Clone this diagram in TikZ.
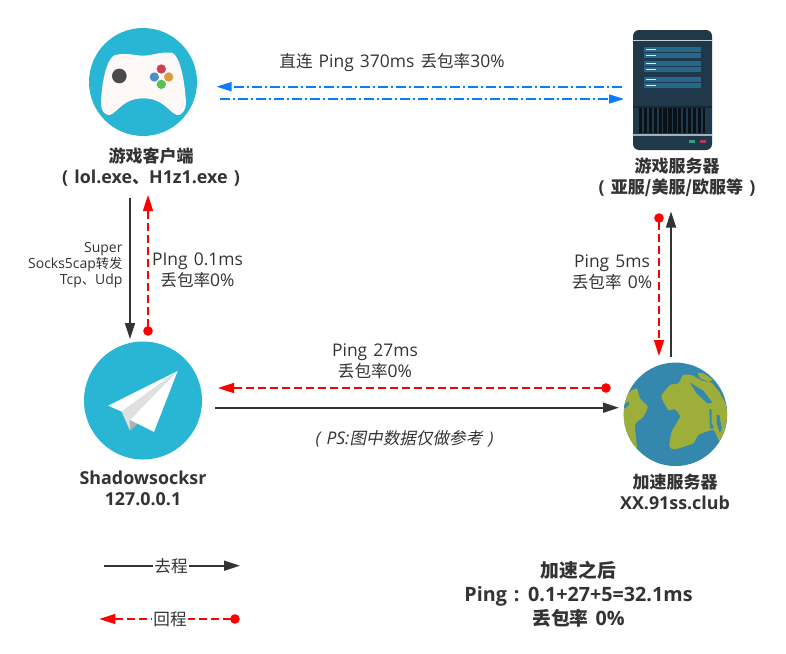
\documentclass[tikz,border=0pt]{standalone}
\usepackage{fontspec}
\usepackage{tikz}
\usetikzlibrary{arrows.meta}
\setmainfont[Scale=1.05,WordSpace=1.35]{Open Sans}
\newfontfamily\cjk[AutoFakeSlant=0.2]{Noto Sans CJK SC}
\newcommand{\zh}[1]{{\cjk #1}}
\definecolor{inkgrey}{HTML}{333333}
\definecolor{tealblue}{HTML}{29B6D5}
\definecolor{linkblue}{HTML}{0A7CFF}
\definecolor{rackdark}{HTML}{20394A}
\definecolor{rackrow}{HTML}{27678C}
\definecolor{seablue}{HTML}{3488AD}
\definecolor{landgreen}{HTML}{9DAE3A}
\definecolor{padbody}{HTML}{FFF8F8}
\definecolor{padstick}{HTML}{4A4A4A}
\definecolor{padred}{HTML}{C8434F}
\definecolor{padblue}{HTML}{4A90C8}
\definecolor{padorange}{HTML}{E0993A}
\definecolor{padgreen}{HTML}{55C455}
\definecolor{ledgreen}{HTML}{3A9D7F}
\definecolor{ledred}{HTML}{B03A5B}
\tikzset{
  goline/.style={draw=inkgrey,line width=1.7pt,-{Triangle[length=16pt,width=10pt]}},
  backline/.style={draw=red,line width=1.6pt,dash pattern=on 8pt off 4pt,
    {Circle[length=9.5pt]}-{Triangle[length=16pt,width=10pt]}},
  directline/.style={draw=linkblue,line width=1.6pt,dash pattern=on 10pt off 3pt on 2pt off 3pt,
    -{Triangle[length=15pt,width=9pt]}},
  note/.style={text=inkgrey,align=center,inner sep=0pt,font=\fontsize{16.6}{21}\selectfont},
  title/.style={text=inkgrey,align=center,inner sep=0pt,font=\bfseries\fontsize{17}{21}\selectfont},
  small/.style={text=inkgrey,align=right,inner sep=0pt,font=\fontsize{13.3}{16.3}\selectfont},
  badge/.style={circle,fill=tealblue,inner sep=0pt,minimum size=#1}
}
\begin{document}
\begin{tikzpicture}[x=1pt,y=-1pt]
\useasboundingbox (0,0) rectangle (786,653);
%Game client
  \node[badge=108pt] (game) at (143,82) {};
  \begin{scope}[shift={(60,10)},x=.3333pt,y=-.3333pt]
    \fill[padbody] (165,135) .. controls (200,127) and (225,137) .. (250,137) .. controls (275,137) and (300,125) .. (335,128)
      .. controls (360,135) and (375,215) .. (378,280) .. controls (378,300) and (365,318) .. (350,315)
      .. controls (325,305) and (310,265) .. (250,265) .. controls (190,265) and (175,305) .. (150,315)
      .. controls (135,318) and (122,300) .. (123,280) .. controls (125,215) and (140,145) .. (165,135) -- cycle;
    \fill[padstick] (178,198) circle (22);
    \fill[padred] (304,177) circle (14);
    \fill[padblue] (283,201) circle (14);
    \fill[padorange] (326,201) circle (14);
    \fill[padgreen] (304,223) circle (14);
  \end{scope}
  \node[title] (gameText) at (151,167.5) {\zh{游戏客户端}\\( lol.exe\zh{、}H1z1.exe )};
%Game server
  \node[rounded corners=6pt,fill=rackdark,inner sep=0pt,minimum width=79pt,minimum height=120pt] (server) at (672.5,90) {};
  \fill[white!75!rackdark] (633,39.5) rectangle (712,41);
  \foreach \ytop in {47.3,53.3,61,67,77,83}{
    \fill[rackrow] (644.3,\ytop) rectangle (701,\ytop+4.7);
    \fill[white!85!rackrow] (646,\ytop+1.6) rectangle (656,\ytop+3);
  }
  \fill[rackdark!70!black] (633,106) rectangle (712,107.5);
  \fill[black!70!rackdark] (638.7,108.3) rectangle (705.3,132.7);
  \foreach \xvent in {643,647.9,652.8,657.7,662.6,667.5,672.4,677.3,682.2,687.1,692,696.9,701.8}
    \fill[rackdark] (\xvent-.8,108.3) rectangle (\xvent+.8,132.7);
  \fill[white!60!rackdark] (633,134) rectangle (712,136);
  \fill[ledgreen] (689,140) rectangle (694.5,143);
  \fill[ledred] (700,140) rectangle (705.5,143);
  \node[title] (serverText) at (677,177.5) {\zh{游戏服务器}\\( \zh{亚服/美服/欧服等} )};
%Shadowsocksr
  \node[badge=118pt] (proxy) at (143,400.5) {};
  \begin{scope}[shift={(20,190)},x=.3333pt,y=-.3333pt]
    \fill[white] (473,543) -- (265,647) -- (305,665) -- cycle;
    \fill[black!12] (473,543) -- (305,665) -- (330,722) -- (330,690) -- cycle;
    \fill[black!30] (330,690) -- (330,722) -- (352,702) -- cycle;
    \fill[white] (473,543) -- (330,690) -- (402,726) -- cycle;
  \end{scope}
  \node[title] (proxyText) at (143,488.5) {Shadowsocksr\\127.0.0.1};
%Speedup server
  \node[circle,fill=seablue,inner sep=0pt,minimum size=103.5pt] (globe) at (675.5,414.3) {};
  \begin{scope}[shift={(620,360)},x=.3333pt,y=-.3333pt]
    \clip (166,163) circle (155);
    \fill[landgreen] plot[smooth cycle,tension=.35] coordinates {(5,150) (25,100) (50,85) (60,115) (83,140) (70,170)
      (45,195) (50,268) (5,190)};
    \fill[landgreen] plot[smooth cycle,tension=.3] coordinates {(125,105) (150,75) (175,70) (190,45) (215,45) (245,62) (275,68)
      (300,100) (330,160) (320,200) (302,250) (280,210) (235,225) (220,250) (165,268) (148,260) (155,215) (180,170)
      (165,148) (145,150) (125,115)};
    \fill[landgreen] (232,38) -- (250,40) -- (280,60) -- (265,65) -- (240,55) -- cycle;
    \fill[seablue] (210,68) -- (250,92) -- (277,128) -- (262,130) -- (230,100) -- cycle;
    \fill[seablue] (268,148) -- (275,148) -- (275,190) -- (282,205) -- (270,205) -- cycle;
    \fill[seablue] (290,165) -- (298,165) -- (305,205) -- (300,220) -- (290,190) -- cycle;
    \fill[seablue] (12,132) -- (28,125) -- (25,138) -- (12,146) -- cycle;
  \end{scope}
  \node[title] (globeText) at (675,492) {\zh{加速服务器}\\XX.91ss.club};
% anchors of the links
  \coordinate (directFrom) at (622,86.7);
  \coordinate (directTo) at (216.5,86.7);
  \coordinate (directBackFrom) at (220,99);
  \coordinate (directBackTo) at (624,99);
  \coordinate (gameOut) at (130,198);
  \coordinate (proxyIn) at (130,339);
  \coordinate (proxyBack) at (148,335.7);
  \coordinate (gameBack) at (148,195);
  \coordinate (proxyOut) at (215,407.7);
  \coordinate (globeIn) at (619,407.7);
  \coordinate (globeBack) at (610.7,388);
  \coordinate (proxyBackIn) at (218,388);
  \coordinate (serverBack) at (659,213.3);
  \coordinate (globeBackIn) at (659,356);
  \coordinate (globeOut) at (671,356.7);
  \coordinate (serverIn) at (671,211.5);
% links
  \draw[directline] (directFrom) -- (directTo);
  \draw[directline] (directBackFrom) -- (directBackTo);
  \draw[goline] (gameOut) -- (proxyIn);
  \draw[backline] (proxyBack) -- (gameBack);
  \draw[goline] (proxyOut) -- (globeIn);
  \draw[backline] (globeBack) -- (proxyBackIn);
  \draw[backline] (serverBack) -- (globeBackIn);
  \draw[goline] (globeOut) -- (serverIn);
% labels
  \node[note] (directText) at (392,62.5) {\zh{直连} Ping 370ms \zh{丢包率}30\%};
  \node[small,anchor=east] (socksText) at (122.7,265) {Super\\Socks5cap\zh{转发}\\Tcp\zh{、}Udp};
  \node[note] (pingLocal) at (197.5,270) {PIng 0.1ms\\\zh{丢包率}0\%};
  \node[note] (pingRelay) at (375,361) {Ping 27ms\\\zh{丢包率}0\%};
  \node[note] (pingServer) at (612,272) {Ping 5ms\\\zh{丢包率} 0\%};
  \node[note,font=\itshape\fontsize{16.6}{21}\selectfont] (psText) at (404.5,438.5) {( PS:\zh{图中数据仅做参考} )};
%legend
  \coordinate (goStart) at (104,565.7);
  \coordinate (goEnd) at (240,565.7);
  \coordinate (backStart) at (239.7,619);
  \coordinate (backEnd) at (99.3,619);
  \draw[goline] (goStart) -- (goEnd);
  \draw[backline] (backStart) -- (backEnd);
  \node[note,fill=white,inner xsep=1pt] (goText) at (171,566.5) {\zh{去程}};
  \node[note,fill=white,inner xsep=1pt] (backText) at (170,619.5) {\zh{回程}};
  \node[title,font=\bfseries\fontsize{18.8}{24}\selectfont] (resultText) at (578.5,594.5) {\zh{加速之后}\\Ping : 0.1+27+5=32.1ms\\\zh{丢包率} 0\%};
\end{tikzpicture}
\end{document}
